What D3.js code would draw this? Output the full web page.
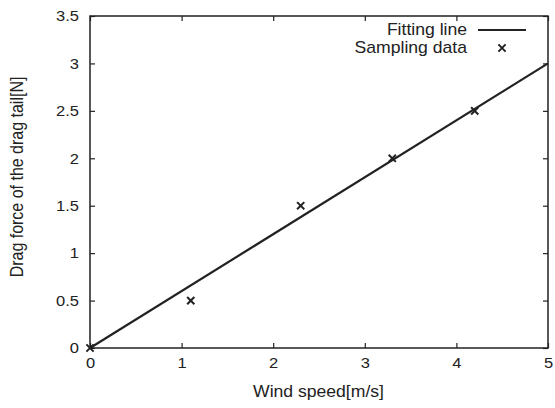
<!DOCTYPE html>
<html><head><meta charset="utf-8">
<script src="https://cdn.jsdelivr.net/npm/d3@7"></script>
<style>body{margin:0;background:#fff}text{font-family:"Liberation Sans",Arial,sans-serif;fill:#222}</style>
</head><body>
<svg id="c" width="555" height="408"></svg>
<script>
const xTicks = [0, 1, 2, 3, 4, 5];
const yTicks = [0, 0.5, 1, 1.5, 2, 2.5, 3, 3.5];
const sampleX = [0, 1.1, 2.3, 3.3, 4.2];
const sampleY = [0, 0.5, 1.5, 2.0, 2.5];
const fitX = [0, 5];
const fitY = [0, 3.0];
const xTitle = "Wind speed[m/s]";
const yTitle = "Drag force of the drag tail[N]";
const legendLabels = ["Fitting line", "Sampling data"];

const svg = d3.select("#c");
const L = 90, R = 548, T = 16, B = 348;
const x = d3.scaleLinear().domain([0, 5]).range([L, R]);
const y = d3.scaleLinear().domain([0, 3.5]).range([B, T]);
const fsTick = 15, fs = 16, col = "#222", sx = 1.1;

const g = svg.append("g");
const ax = d3.axisBottom(x).tickValues(xTicks).tickSize(-5).tickPadding(9).tickFormat(d3.format("~g"));
const axT = d3.axisTop(x).tickValues(xTicks).tickSize(-5).tickFormat("");
const ay = d3.axisLeft(y).tickValues(yTicks).tickSize(-5).tickPadding(10).tickFormat(d3.format("~g"));
const ayR = d3.axisRight(y).tickValues(yTicks).tickSize(-5).tickFormat("");
function style(sel){
  sel.select(".domain").remove();
  sel.selectAll("line").attr("stroke", col).attr("stroke-width", 1.2);
  sel.selectAll("text").attr("font-size", fsTick).attr("font-family", '"Liberation Sans",Arial,sans-serif').attr("fill", col)
    .attr("transform", `scale(${sx},1)`);
}
g.append("g").attr("transform", `translate(0,${B})`).call(ax).call(style);
g.append("g").attr("transform", `translate(0,${T})`).call(axT).call(style);
g.append("g").attr("transform", `translate(${L},0)`).call(ay).call(style);
g.append("g").attr("transform", `translate(${R},0)`).call(ayR).call(style);
g.append("rect").attr("x", L).attr("y", T).attr("width", R - L).attr("height", B - T)
  .attr("fill", "none").attr("stroke", col).attr("stroke-width", 1.5);

const line = d3.line().x(d => x(d[0])).y(d => y(d[1]));
g.append("path").datum(fitX.map((v, i) => [v, fitY[i]])).attr("d", line)
  .attr("fill", "none").attr("stroke", col).attr("stroke-width", 2.2);

const ms = 3.6;
function cross(sel, cx, cy){
  sel.append("path").attr("d", `M${cx-ms},${cy-ms}L${cx+ms},${cy+ms}M${cx-ms},${cy+ms}L${cx+ms},${cy-ms}`)
    .attr("stroke", col).attr("stroke-width", 2).attr("fill", "none");
}
sampleX.forEach((v, i) => cross(g, x(v), y(sampleY[i])));

function htext(tx, ty, anchor, s){
  return g.append("text").attr("transform", `translate(${tx},${ty}) scale(${sx},1)`)
    .attr("text-anchor", anchor).attr("font-size", fs).text(s);
}
htext(467, 35, "end", legendLabels[0]);
g.append("line").attr("x1", 478).attr("x2", 526).attr("y1", 30).attr("y2", 30).attr("stroke", col).attr("stroke-width", 2.2);
htext(467, 53, "end", legendLabels[1]);
cross(g, 502, 48);

htext(318.5, 397, "middle", xTitle);
g.append("text").attr("transform", `translate(23,${(T + B) / 2 - 5}) rotate(-90) scale(1,${sx})`).attr("text-anchor", "middle").attr("font-size", fs).text(yTitle);
</script>
</body></html>
